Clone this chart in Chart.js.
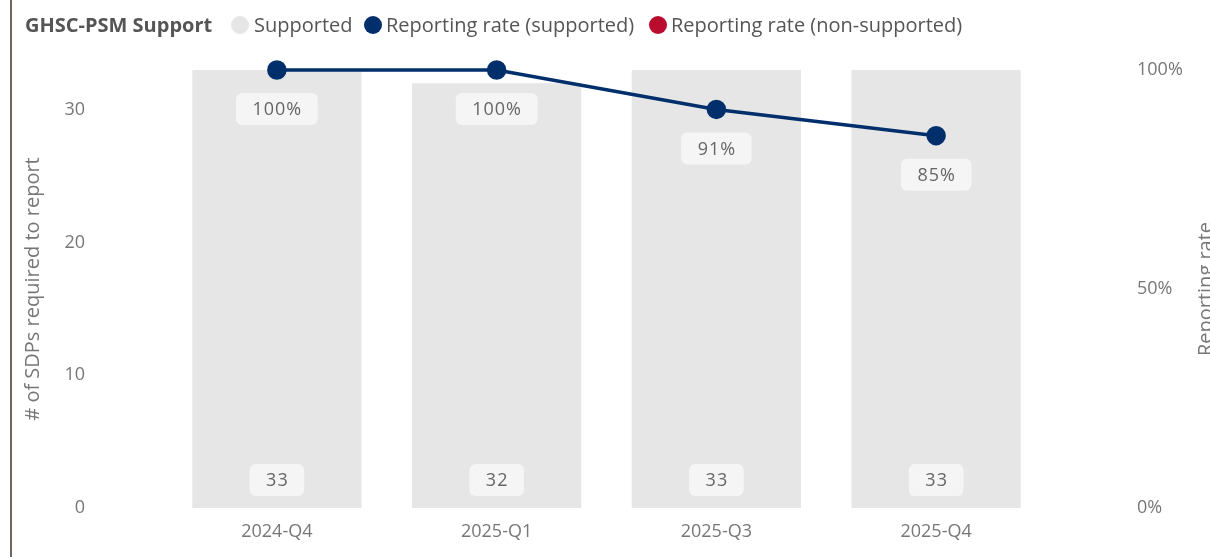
<!DOCTYPE html>
<html>
<head>
<meta charset="utf-8">
<script src="https://cdn.jsdelivr.net/npm/chart.js@4"></script>
<style>
  body { margin: 0; background: #fff; font-family: "Open Sans", sans-serif; }
  #wrap { position: relative; width: 1210px; height: 557px; overflow: hidden; }
  #c { position: absolute; left: 0; top: 0; }
  #edge { position: absolute; left: 10px; top: 0; width: 2px; height: 557px; background: #6b6563; }
  .lg { position: absolute; top: 11px; font-size: 20px; color: #555; white-space: nowrap; line-height: 28px; }
  .dot { position: absolute; top: 16px; width: 18px; height: 18px; border-radius: 50%; }
</style>
</head>
<body>
<div id="wrap">
  <canvas id="c" width="1210" height="557"></canvas>
  <div id="edge"></div>
  <div class="lg" style="left:25px;font-weight:bold;">GHSC-PSM Support</div>
  <div class="dot" style="left:231px;background:#e6e6e6"></div>
  <div class="lg" style="left:254px">Supported</div>
  <div class="dot" style="left:364px;background:#002f6c"></div>
  <div class="lg" style="left:386px">Reporting rate (supported)</div>
  <div class="dot" style="left:649px;background:#ba0c2f"></div>
  <div class="lg" style="left:671px">Reporting rate (non-supported)</div>
</div>
<script>
const quarters = ["2024-Q4", "2025-Q1", "2025-Q3", "2025-Q4"];
const sdpCount = [33, 32, 33, 33];
const rateSupported = [1.00, 1.00, 0.91, 0.85];
const rateNonSupported = [null, null, null, null];
const leftTicks = [0, 10, 20, 30];
const rightTicks = [0, 0.5, 1];

const NAVY = "#002f6c";
const GREY_TXT = "#777";

// boxed value labels (bars at the bottom, rate under each point)
const boxLabels = {
  id: "boxLabels",
  afterDatasetsDraw(chart) {
    const ctx = chart.ctx;
    const yb = chart.scales.y.bottom;
    ctx.save();
    ctx.font = "18px 'Open Sans'";
    ctx.letterSpacing = "1px";
    ctx.textAlign = "center";
    ctx.textBaseline = "middle";
    const box = (x, y, txt) => {
      const w = ctx.measureText(txt).width + 32;
      const h = 32;
      ctx.fillStyle = "#f5f5f5";
      ctx.beginPath();
      ctx.roundRect(x - w / 2, y - h / 2, w, h, 6);
      ctx.fill();
      ctx.fillStyle = "#666";
      ctx.fillText(txt, x + 0.5, y + 1);
    };
    chart.getDatasetMeta(1).data.forEach((pt, i) => {
      box(pt.x, yb - 28, String(sdpCount[i]));
    });
    chart.getDatasetMeta(0).data.forEach((pt, i) => {
      if (rateSupported[i] == null) return;
      box(pt.x, pt.y + 39, Math.round(rateSupported[i] * 100) + "%");
    });
    // right axis title, partly cut by the edge
    ctx.letterSpacing = "0px";
    ctx.font = "20px 'Open Sans'";
    ctx.fillStyle = GREY_TXT;
    ctx.textBaseline = "alphabetic";
    ctx.translate(1212, (chart.chartArea.top + chart.chartArea.bottom) / 2);
    ctx.rotate(-Math.PI / 2);
    ctx.fillText("Reporting rate", 0, 0);
    ctx.restore();
  }
};

new Chart(document.getElementById("c"), {
  data: {
    labels: quarters,
    datasets: [
      {
        type: "line",
        label: "Reporting rate (supported)",
        data: rateSupported,
        yAxisID: "y1",
        borderColor: NAVY,
        backgroundColor: NAVY,
        borderWidth: 3.5,
        pointRadius: 8,
        pointHoverRadius: 8,
        tension: 0,
        clip: false,
        order: 0
      },
      {
        type: "bar",
        label: "Supported",
        data: sdpCount,
        yAxisID: "y",
        backgroundColor: "#e6e6e6",
        barPercentage: 1,
        categoryPercentage: 0.77,
        order: 2
      },
      {
        type: "line",
        label: "Reporting rate (non-supported)",
        data: rateNonSupported,
        yAxisID: "y1",
        borderColor: "#ba0c2f",
        backgroundColor: "#ba0c2f",
        order: 1
      }
    ]
  },
  options: {
    responsive: false,
    animation: false,
    layout: { padding: { top: 70, left: 0, right: 0, bottom: 0 } },
    plugins: { legend: { display: false }, tooltip: { enabled: false } },
    scales: {
      x: {
        grid: { display: false, drawTicks: false },
        border: { display: false },
        ticks: { color: GREY_TXT, font: { family: "Open Sans", size: 18 }, padding: 13 },
        afterFit(s) { s.height = 49; }
      },
      y: {
        position: "left",
        min: 0,
        max: 33,
        grid: { display: false, drawTicks: false },
        border: { display: false },
        afterBuildTicks(s) { s.ticks = leftTicks.map(v => ({ value: v })); },
        ticks: { color: GREY_TXT, font: { family: "Open Sans", size: 18 }, padding: 82 },
        title: {
          display: true,
          text: "# of SDPs required to report",
          color: GREY_TXT,
          font: { family: "Open Sans", size: 20 },
          padding: { top: 21, bottom: 0 }
        },
        afterFit(s) { s.width = 167; s.paddingTop = 0; s.paddingBottom = 0; }
      },
      y1: {
        position: "right",
        min: 0,
        max: 1,
        grid: { display: false, drawTicks: false },
        border: { display: false },
        afterBuildTicks(s) { s.ticks = rightTicks.map(v => ({ value: v })); },
        ticks: {
          color: GREY_TXT,
          font: { family: "Open Sans", size: 18 },
          padding: 91,
          callback: v => Math.round(v * 100) + "%"
        },
        afterFit(s) { s.width = 164; s.paddingTop = 0; s.paddingBottom = 0; }
      }
    }
  },
  plugins: [boxLabels]
});
</script>
</body>
</html>
